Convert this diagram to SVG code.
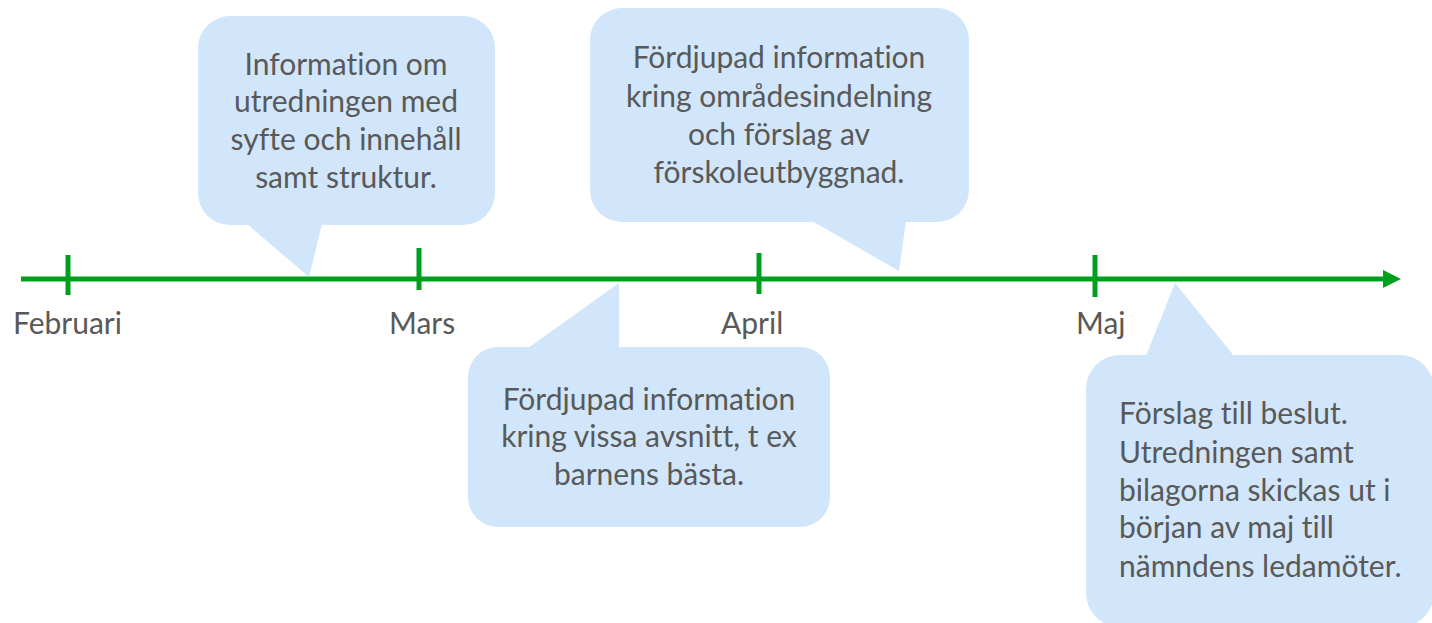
<svg xmlns="http://www.w3.org/2000/svg" width="1432" height="623" viewBox="0 0 1432 623">
<style>
.bub{fill:#D1E6FA;stroke:none}
.t{font-family:Lato,"Open Sans","Liberation Sans",sans-serif;font-size:30px;fill:#595959;font-variant-ligatures:none;font-feature-settings:"liga" 0}
.c{text-anchor:middle}
.ax{stroke:#00A01E;stroke-width:5;fill:none}
</style>
<defs>
<marker id="arr" markerUnits="userSpaceOnUse" markerWidth="18" markerHeight="18" refX="0" refY="9" orient="auto" viewBox="0 0 18 18">
<path d="M0,0 L18,9 L0,18 Z" fill="#00A01E"/>
</marker>
</defs>
<g id="bubble1">
<rect class="bub" x="198" y="16" width="297" height="209" rx="32"/>
<polygon class="bub" points="247,224 322,224 309,277"/>
<text class="t c" x="346" y="75">Information om</text>
<text class="t c" x="346" y="112">utredningen med</text>
<text class="t c" x="346" y="150">syfte och innehåll</text>
<text class="t c" x="346" y="188">samt struktur.</text>
</g>
<g id="bubble2">
<rect class="bub" x="590" y="8" width="379" height="214" rx="32"/>
<polygon class="bub" points="812,221 906,221 899,271"/>
<text class="t c" x="779" y="68">Fördjupad information</text>
<text class="t c" x="779" y="107">kring områdesindelning</text>
<text class="t c" x="779" y="145">och förslag av</text>
<text class="t c" x="779" y="183">förskoleutbyggnad.</text>
</g>
<g id="bubble3">
<rect class="bub" x="468" y="347" width="362" height="180" rx="30"/>
<polygon class="bub" points="528,348 619,348 619,283"/>
<text class="t c" x="649" y="410">Fördjupad information</text>
<text class="t c" x="649" y="447">kring vissa avsnitt, t ex</text>
<text class="t c" x="649" y="485">barnens bästa.</text>
</g>
<g id="bubble4">
<rect class="bub" x="1086" y="355" width="348" height="272" rx="34"/>
<polygon class="bub" points="1146,356 1234,356 1175,283"/>
<text class="t" x="1119" y="424">Förslag till beslut.</text>
<text class="t" x="1119" y="463">Utredningen samt</text>
<text class="t" x="1119" y="501">bilagorna skickas ut i</text>
<text class="t" x="1119" y="538">början av maj till</text>
<text class="t" x="1119" y="577">nämndens ledamöter.</text>
</g>
<g id="connectors">
<line class="ax" x1="21" y1="279" x2="1383" y2="279" marker-end="url(#arr)"/>
<line class="ax" x1="68" y1="255" x2="68" y2="295"/>
<line class="ax" x1="419" y1="248" x2="419" y2="290"/>
<line class="ax" x1="759" y1="253" x2="759" y2="294"/>
<line class="ax" x1="1095" y1="255" x2="1095" y2="297"/>
</g>
<g id="labels">
<text class="t" x="13" y="334">Februari</text>
<text class="t" x="389" y="334">Mars</text>
<text class="t" x="721" y="334">April</text>
<text class="t" x="1076" y="334">Maj</text>
</g>
</svg>
